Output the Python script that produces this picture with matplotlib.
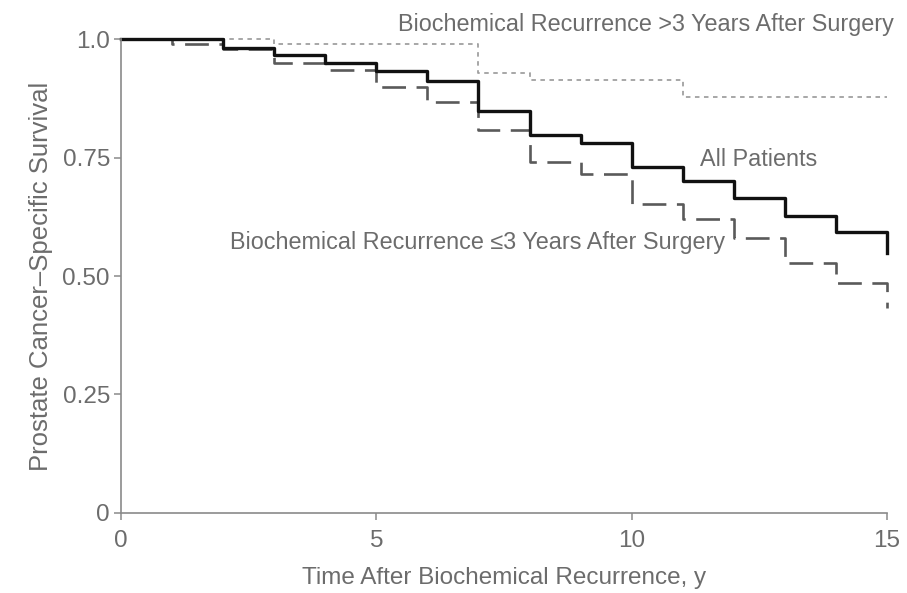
import matplotlib
matplotlib.use("Agg")
import matplotlib.pyplot as plt

plt.rcParams['font.family'] = ['Liberation Sans', 'DejaVu Sans']

# Kaplan-Meier step data (years, survival)
all_t = [0, 2, 3, 4, 5, 6, 7, 8, 9, 10, 11, 12, 13, 14, 15]
all_s = [1.0, 0.981, 0.966, 0.95, 0.932, 0.911, 0.848, 0.797, 0.78, 0.731,
         0.70, 0.664, 0.626, 0.594, 0.548]

early_t = [0, 1, 2, 3, 4, 5, 6, 7, 8, 9, 10, 11, 12, 13, 14, 15]
early_s = [1.0, 0.99, 0.98, 0.95, 0.935, 0.899, 0.867, 0.808, 0.74, 0.716,
           0.653, 0.62, 0.58, 0.528, 0.486, 0.433]

late_t = [0, 3, 7, 8, 11, 15]
late_s = [1.0, 0.99, 0.928, 0.913, 0.877, 0.877]

xticks = [0, 5, 10, 15]
yticks = [0, 0.25, 0.5, 0.75, 1.0]
ytick_labels = ['0', '0.25', '0.50', '0.75', '1.0']

grey = '#6c6c6c'

fig = plt.figure(figsize=(9.07, 5.93), dpi=100)
ax = fig.add_axes([0.1334, 0.135, 0.978 - 0.1334, 0.934 - 0.135])

ax.step(late_t, late_s, where='post', color='#a0a0a0', lw=1.3,
        linestyle=(0, (2.5, 2.5)), clip_on=False)
ax.step(early_t, early_s, where='post', color='#5a5a5a', lw=1.9,
        linestyle=(0, (9, 4)), clip_on=False)
ax.step(all_t, all_s, where='post', color='#111111', lw=2.4, clip_on=False)

ax.set_xlim(0, 15)
ax.set_ylim(0, 1.0)
ax.set_xticks(xticks)
ax.set_yticks(yticks)
ax.set_yticklabels(ytick_labels)

for side in ['top', 'right']:
    ax.spines[side].set_visible(False)
for side in ['left', 'bottom']:
    ax.spines[side].set_color('#8a8a8a')
    ax.spines[side].set_linewidth(1.2)
ax.tick_params(colors='#8a8a8a', labelcolor=grey, labelsize=17.5, length=5, width=1.1)
ax.tick_params(axis='x', pad=7)
ax.tick_params(axis='y', pad=3)

ax.set_xlabel('Time After Biochemical Recurrence, y', color=grey, fontsize=17.5, labelpad=11)
ax.set_ylabel('Prostate Cancer\u2013Specific Survival', color=grey, fontsize=18.5, labelpad=7)

ax.text(5.42, 1.03, 'Biochemical Recurrence >3 Years After Surgery',
        color=grey, fontsize=16.8, va='center', ha='left', clip_on=False)
ax.text(11.33, 0.745, 'All Patients', color=grey, fontsize=16.8, va='center', ha='left')
ax.text(2.13, 0.57, 'Biochemical Recurrence \u22643 Years After Surgery',
        color=grey, fontsize=16.8, va='center', ha='left')

fig.savefig('out.png', dpi=100, facecolor='white')
